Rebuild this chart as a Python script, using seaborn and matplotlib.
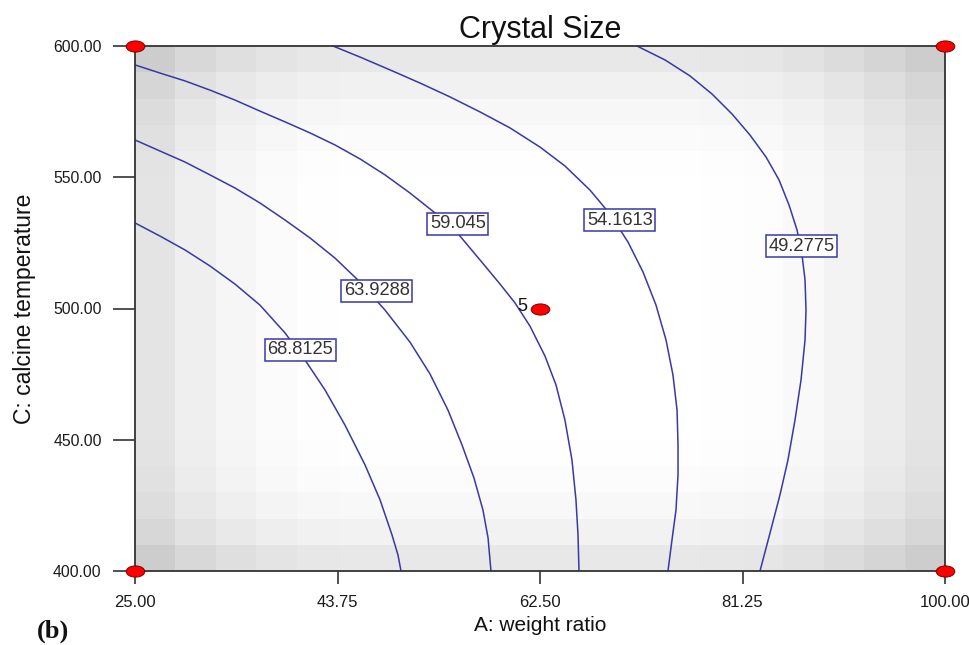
import numpy as np
import pandas as pd
import matplotlib
matplotlib.use("Agg")
import matplotlib.pyplot as plt
import seaborn as sns
from matplotlib.path import Path

# ---------------- data ----------------
x_ticks = [25.00, 43.75, 62.50, 81.25, 100.00]
x_tick_labels = ["25.00", "43.75", "62.50", "81.25", "100.00"]
y_ticks = [400, 450, 500, 550, 600]
y_tick_labels = ["400.00", "450.00", "500.00", "550.00", "600.00"]

# contour lines (A: weight ratio, C: calcine temperature)
c68_x = [25.00, 27.31, 29.63, 31.94, 34.26, 36.57, 38.89, 40.74, 42.59, 44.44,
         46.30, 47.69, 48.80, 49.35, 49.63]
c68_y = [532.6, 527.6, 522.3, 516.2, 509.3, 501.3, 490.7, 480.4, 469.0, 455.6,
         440.4, 427.1, 413.7, 406.1, 400.0]

c64_x = [25.00, 27.31, 29.63, 31.94, 34.26, 36.57, 38.89, 41.20, 43.52, 45.83,
         48.15, 50.46, 52.31, 53.98, 55.28, 56.39, 57.22, 57.69, 57.96]
c64_y = [564.2, 560.0, 555.8, 550.9, 545.9, 540.2, 533.7, 526.9, 519.2, 510.1,
         499.4, 487.2, 475.1, 461.3, 448.0, 435.4, 423.2, 412.6, 400.0]

c59_x = [25.00, 27.31, 29.63, 31.94, 34.26, 36.57, 38.89, 41.20, 43.52, 45.83,
         48.15, 50.46, 52.78, 55.09, 57.41, 58.80, 60.19, 61.57, 62.96, 63.98,
         64.81, 65.46, 65.83, 66.02, 66.11]
c59_y = [592.8, 589.7, 586.7, 583.2, 579.4, 575.2, 571.1, 566.9, 562.3, 557.0,
         550.9, 544.0, 536.4, 527.6, 516.2, 509.3, 502.1, 493.3, 481.9, 470.9,
         457.5, 442.3, 427.1, 413.7, 400.0]

c54_x = [43.33, 45.83, 48.61, 51.39, 54.17, 56.94, 59.72, 62.50, 64.81, 67.13,
         68.98, 70.65, 72.04, 73.24, 74.17, 74.81, 75.19, 75.28, 75.28, 75.09,
         74.72, 74.35]
c54_y = [600.0, 595.8, 590.9, 585.9, 580.6, 574.9, 568.8, 561.5, 554.3, 545.1,
         536.0, 525.3, 513.9, 501.3, 488.0, 474.7, 461.3, 448.0, 436.6, 423.2,
         411.8, 400.0]

c49_x = [71.48, 74.07, 76.39, 78.43, 80.28, 81.94, 83.43, 84.63, 85.56, 86.30,
         86.76, 87.04, 87.13, 87.04, 86.67, 86.11, 85.46, 84.72, 83.80, 82.87]
c49_y = [600.0, 594.7, 588.6, 581.7, 574.1, 566.1, 557.7, 549.0, 539.4, 529.9,
         520.4, 510.9, 499.4, 488.0, 472.8, 457.5, 442.3, 429.0, 414.5, 400.0]

contour_levels = ["68.8125", "63.9288", "59.045", "54.1613", "49.2775"]
label_x = [40.3, 47.4, 54.9, 69.9, 86.7]
label_y = [484.2, 506.7, 532.2, 533.7, 523.8]

# design points
pts_x = [25.0, 25.0, 100.0, 100.0, 62.5]
pts_y = [400.0, 600.0, 400.0, 600.0, 500.0]
center_count = "5"

# background shading (darkness per column left->right and per row top->bottom)
col_shade = [27, 16, 9, 4, 1, 0, 0, 0, 0, 0, 0, 0, 0, 0, 1, 2, 6, 12, 19, 27]
row_shade_top = [23, 14, 8, 4, 1, 0, 0, 0, 0, 0, 0, 0, 0, 0, 0, 1, 3, 7, 13, 23]

# ---------------- styling ----------------
sns.set_theme(style="ticks")
plt.rcParams["font.family"] = ["Liberation Sans", "DejaVu Sans"]

line_color = "#3838a6"
fig = plt.figure(figsize=(9.7, 6.45), dpi=100)
ax = fig.add_axes([135 / 970, 1 - 571 / 645, 810 / 970, 525 / 645])

# background cells
x_edges = np.linspace(x_ticks[0], x_ticks[-1], len(col_shade) + 1)
y_edges = np.linspace(y_ticks[0], y_ticks[-1], len(row_shade_top) + 1)
row_b = np.array(row_shade_top[::-1])[:, None]
grid = np.clip(255 - row_b - np.array(col_shade)[None, :], 0, 255)
ax.pcolormesh(x_edges, y_edges, grid, cmap="gray", vmin=0, vmax=255,
              shading="flat", zorder=0)

# contour lines
frames = []
for lvl, xs, ys in zip(contour_levels,
                       [c68_x, c64_x, c59_x, c54_x, c49_x],
                       [c68_y, c64_y, c59_y, c54_y, c49_y]):
    frames.append(pd.DataFrame({"x": xs, "y": ys, "level": lvl}))
df = pd.concat(frames, ignore_index=True)
sns.lineplot(data=df, x="x", y="y", units="level", estimator=None, sort=False,
             color=line_color, lw=1.1, ax=ax, zorder=2)

# contour labels
for txt, lx, ly in zip(contour_levels, label_x, label_y):
    ax.text(lx, ly, txt, ha="center", va="center", fontsize=13.2, color="#333333",
            zorder=4,
            bbox=dict(boxstyle="square,pad=0.14", fc="white", ec=line_color, lw=1.1))

# design points (ellipse markers)
circ = Path.unit_circle()
ell = Path(circ.vertices * np.array([1.0, 0.6]), circ.codes)
sns.scatterplot(x=pts_x, y=pts_y, marker=ell, s=180, color="#ff0000",
                edgecolor="#7a0000", linewidth=0.7, clip_on=False, zorder=6, ax=ax)
ax.text(60.83, 500.6, center_count, ha="center", va="center", fontsize=13,
        color="#111111", zorder=5)

# axes
ax.set_xlim(x_ticks[0], x_ticks[-1])
ax.set_ylim(y_ticks[0], y_ticks[-1])
ax.set_xticks(x_ticks)
ax.set_xticklabels(x_tick_labels)
ax.set_yticks(y_ticks)
ax.set_yticklabels(y_tick_labels)
ax.tick_params(axis="y", direction="out", length=16, width=1.2, pad=8,
               labelsize=11.3, color="#333333", labelcolor="#1a1a1a", left=True)
ax.tick_params(axis="x", direction="out", length=9.5, width=1.2, pad=8,
               labelsize=12, color="#333333", labelcolor="#1a1a1a", bottom=True)
for sp in ax.spines.values():
    sp.set_visible(True)
    sp.set_color("#333333")
    sp.set_linewidth(1.3)

ax.set_title("Crystal Size", fontsize=22, pad=6, color="#111111")
ax.set_xlabel("A: weight ratio", fontsize=15, labelpad=4, color="#111111")
ax.set_ylabel("C: calcine temperature", fontsize=16.5, labelpad=12, color="#111111")

fig.text(37 / 970, 1 - 631 / 645, "(b)", family=["Liberation Serif", "DejaVu Serif"],
         weight="bold", fontsize=19, ha="left", va="center", color="#111111")

fig.savefig("out.png", dpi=100)
